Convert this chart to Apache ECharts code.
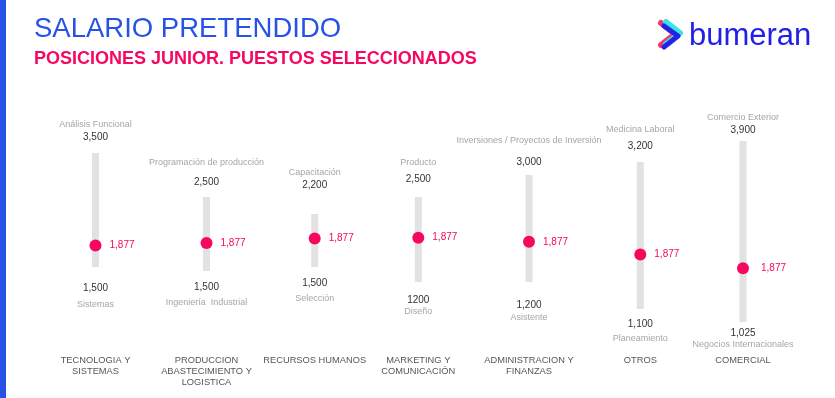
<!DOCTYPE html>
<html>
<head>
<meta charset="utf-8">
<script src="https://cdn.jsdelivr.net/npm/echarts@6/dist/echarts.min.js"></script>
<style>
  html, body { margin: 0; padding: 0; background: #fff; }
  #chart { width: 835px; height: 398px; }
</style>
</head>
<body>
<div id="chart"></div>
<script>
// datos del grafico
var categorias = ['TECNOLOGIA Y\nSISTEMAS', 'PRODUCCION\nABASTECIMIENTO Y\nLOGISTICA', 'RECURSOS HUMANOS',
  'MARKETING Y\nCOMUNICACIÓN', 'ADMINISTRACION Y\nFINANZAS', 'OTROS', 'COMERCIAL'];
var salarioMax = [3500, 2500, 2200, 2500, 3000, 3200, 3900];
var salarioMin = [1500, 1500, 1500, 1200, 1200, 1100, 1025];
var promedio = [1877, 1877, 1877, 1877, 1877, 1877, 1877];
var etiquetaMax = ['3,500', '2,500', '2,200', '2,500', '3,000', '3,200', '3,900'];
var etiquetaMin = ['1,500', '1,500', '1,500', '1200', '1,200', '1,100', '1,025'];
var etiquetaProm = ['1,877', '1,877', '1,877', '1,877', '1,877', '1,877', '1,877'];
var puestoMax = ['Análisis Funcional', 'Programación de producción', 'Capacitación', 'Producto',
  'Inversiones / Proyectos de Inversión', 'Medicina Laboral', 'Comercio Exterior'];
var puestoMin = ['Sistemas', 'Ingeniería  Industrial', 'Selección', 'Diseño', 'Asistente',
  'Planeamiento', 'Negocios Internacionales'];

// ubicacion de cada columna (px)
var centro = [95.5, 206.5, 314.7, 418.3, 529, 640.3, 743];
var barraArriba = [153, 197, 214, 197, 175, 162, 141];
var barraAbajo = [267, 271, 267, 282, 282, 309, 322];
var distArriba = [10, 9, 23, 12, 7, 10, 5];
var altoArriba = [12, 26, 13, 21, 31, 21, 13];
var distAbajo = [15, 10, 10, 12, 17, 9, 5];
var altoAbajo = [21, 20, 20, 11, 13, 17, 11];
var distProm = [8, 8, 8, 8, 8, 8, 12];

var AZUL = '#2653e6';
var ROSA = '#f5085f';
var FUENTE = '"Liberation Sans", Arial, sans-serif';
var GRID_TOP = 100, GRID_BOTTOM = 350;

var myChart = echarts.init(document.getElementById('chart'));

var grids = [], xAxes = [], yAxes = [], series = [];
categorias.forEach(function (cat, i) {
  // escala propia de cada columna
  var s = (salarioMax[i] - salarioMin[i]) / (barraAbajo[i] - barraArriba[i]);
  grids.push({ left: centro[i] - 50, width: 100, top: GRID_TOP, height: GRID_BOTTOM - GRID_TOP });
  xAxes.push({
    gridIndex: i, type: 'category', data: [cat],
    axisLine: { show: false }, axisTick: { show: false },
    axisLabel: { interval: 0, margin: 5, fontSize: 9.3, lineHeight: 11, color: '#555', fontFamily: FUENTE }
  });
  yAxes.push({
    gridIndex: i, type: 'value', show: false,
    min: salarioMin[i] - (GRID_BOTTOM - barraAbajo[i]) * s,
    max: salarioMax[i] + (barraArriba[i] - GRID_TOP) * s
  });
  // base invisible hasta el minimo
  series.push({
    type: 'bar', xAxisIndex: i, yAxisIndex: i, stack: 'rango' + i, barWidth: 7, silent: true,
    data: [salarioMin[i]],
    itemStyle: { color: 'rgba(0,0,0,0)' },
    label: {
      show: true, position: 'insideTop', distance: distAbajo[i],
      formatter: function () { return '{v|' + etiquetaMin[i] + '}\n{p|' + puestoMin[i] + '}'; },
      rich: {
        v: { fontSize: 10, color: '#333', lineHeight: 12, fontFamily: FUENTE, textBorderWidth: 0 },
        p: { fontSize: 9, color: '#a6a6a6', lineHeight: altoAbajo[i], fontFamily: FUENTE, textBorderWidth: 0 }
      }
    }
  });
  // rango gris min-max
  series.push({
    type: 'bar', xAxisIndex: i, yAxisIndex: i, stack: 'rango' + i, barWidth: 7, silent: true,
    data: [salarioMax[i] - salarioMin[i]],
    itemStyle: { color: '#e2e2e2' },
    label: {
      show: true, position: 'top', distance: distArriba[i],
      formatter: function () { return '{p|' + puestoMax[i] + '}\n{v|' + etiquetaMax[i] + '}'; },
      rich: {
        p: { fontSize: 9, color: '#a6a6a6', lineHeight: altoArriba[i], fontFamily: FUENTE },
        v: { fontSize: 10, color: '#333', lineHeight: 12, fontFamily: FUENTE }
      }
    }
  });
  // promedio
  series.push({
    type: 'scatter', xAxisIndex: i, yAxisIndex: i, silent: true,
    data: [promedio[i]], symbolSize: 12,
    itemStyle: { color: ROSA, opacity: 1 },
    label: {
      show: true, position: 'right', distance: distProm[i],
      formatter: etiquetaProm[i], color: ROSA, fontSize: 10, fontFamily: FUENTE
    }
  });
});

var option = {
  animation: false,
  backgroundColor: '#fff',
  grid: grids,
  xAxis: xAxes,
  yAxis: yAxes,
  series: series,
  graphic: [
    { type: 'rect', shape: { x: 0, y: 0, width: 6, height: 398 }, style: { fill: AZUL } },
    { type: 'text', x: 34, y: 29, style: { text: 'SALARIO PRETENDIDO', fill: AZUL,
      font: '27.5px ' + FUENTE, verticalAlign: 'middle' } },
    { type: 'text', x: 34, y: 59, style: { text: 'POSICIONES JUNIOR. PUESTOS SELECCIONADOS', fill: ROSA,
      font: 'bold 18px ' + FUENTE, verticalAlign: 'middle' } },
    // logo
    { type: 'polyline', shape: { points: [[661, 23], [675, 34], [661, 45]] },
      style: { stroke: '#f2356e', lineWidth: 6, fill: null, lineJoin: 'round', lineCap: 'round' } },
    { type: 'polyline', shape: { points: [[666, 22], [680, 33], [666, 44]] },
      style: { stroke: '#39e3e6', lineWidth: 6, fill: null, lineJoin: 'round', lineCap: 'round' } },
    { type: 'polyline', shape: { points: [[664, 26], [678, 36], [664, 47]] },
      style: { stroke: '#2323e6', lineWidth: 5, fill: null, lineJoin: 'round', lineCap: 'round' } },
    { type: 'text', x: 689, y: 36, style: { text: 'bumeran', fill: '#2020e6',
      font: '31px ' + FUENTE, verticalAlign: 'middle' } }
  ]
};
myChart.setOption(option);
</script>
</body>
</html>
